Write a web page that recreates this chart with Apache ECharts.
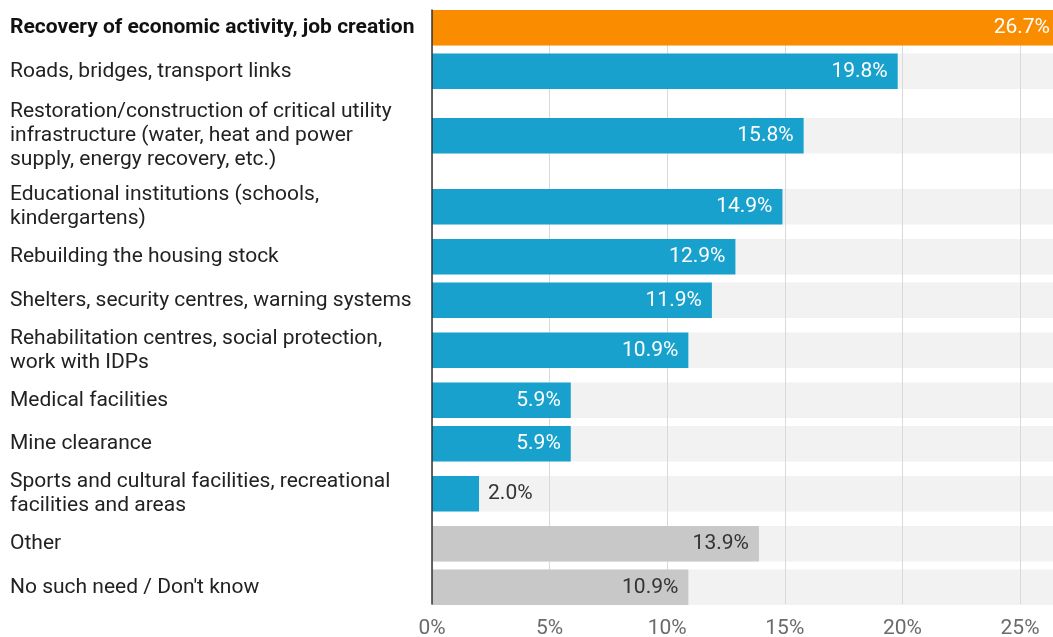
<!DOCTYPE html>
<html>
<head>
<meta charset="utf-8">
<script src="https://cdn.jsdelivr.net/npm/echarts@6/dist/echarts.min.js"></script>
<style>
  html, body { margin: 0; padding: 0; background: #fff; }
  #chart { width: 1053px; height: 637px; }
</style>
</head>
<body>
<div id="chart"></div>
<script>
// Survey answers: what needs rebuilding first (share of respondents, %)
const categories = [
  'Recovery of economic activity, job creation',
  'Roads, bridges, transport links',
  'Restoration/construction of critical utility\ninfrastructure (water, heat and power\nsupply, energy recovery, etc.)',
  'Educational institutions (schools,\nkindergartens)',
  'Rebuilding the housing stock',
  'Shelters, security centres, warning systems',
  'Rehabilitation centres, social protection,\nwork with IDPs',
  'Medical facilities',
  'Mine clearance',
  'Sports and cultural facilities, recreational\nfacilities and areas',
  'Other',
  "No such need / Don't know"
];
const values = [26.7, 19.8, 15.8, 14.9, 12.9, 11.9, 10.9, 5.9, 5.9, 2.0, 13.9, 10.9];
const groups = ['lead', 'item', 'item', 'item', 'item', 'item', 'item', 'item', 'item', 'item', 'rest', 'rest'];
const tickValues = [0, 5, 10, 15, 20, 25];

// ---- styling / layout ----
const FONT = 'Roboto, "Noto Sans", sans-serif';
const FONT_SIZE = 21;
const COLORS = { lead: '#fa8c00', item: '#18a1cd', rest: '#c8c8c8' };
const BAR_H = 35.5;
// row height depends on how many lines the category label wraps to
const ROW_H = { 1: 43.5, 2: 56.5, 3: 85.5 };

const centers = [];
let acc = 0;
categories.forEach(function (c) {
  const h = ROW_H[c.split('\n').length];
  centers.push(acc + h / 2);
  acc += h;
});
const total = acc;
const xMax = Math.max.apply(null, values);

function rowIndexOf(v) {
  let best = 0;
  for (let i = 1; i < centers.length; i++) {
    if (Math.abs(centers[i] - v) < Math.abs(centers[best] - v)) best = i;
  }
  return best;
}

const chart = echarts.init(document.getElementById('chart'), null, { renderer: 'canvas' });

chart.setOption({
  animation: false,
  backgroundColor: '#ffffff',
  textStyle: { fontFamily: FONT },
  grid: {
    left: 432, right: 1053 - 432 - 628, top: 10, bottom: 33,
    containLabel: false, outerBoundsMode: 'none'
  },
  xAxis: {
    type: 'value',
    min: 0,
    max: xMax,
    interval: 5,
    axisLine: { show: false },
    axisTick: { show: false },
    splitLine: { show: true, lineStyle: { color: '#d9d9d9', width: 1 } },
    axisLabel: {
      show: true,
      customValues: tickValues,
      formatter: function (v) { return tickValues.indexOf(v) >= 0 ? v + '%' : ''; },
      color: '#6b6b6b',
      fontSize: FONT_SIZE,
      fontFamily: FONT,
      margin: 14
    }
  },
  yAxis: {
    type: 'value',
    inverse: true,
    min: 4,
    max: total - 5,
    z: 5,
    axisLine: { show: true, lineStyle: { color: '#333', width: 1.5 } },
    axisTick: { show: false },
    splitLine: { show: false },
    axisLabel: {
      show: true,
      customValues: centers,
      align: 'left',
      margin: 422,
      fontSize: FONT_SIZE,
      lineHeight: 24,
      color: '#222',
      fontFamily: FONT,
      formatter: function (v) {
        const i = rowIndexOf(v);
        return i === 0 ? '{b|' + categories[i] + '}' : categories[i];
      },
      rich: {
        b: { fontWeight: 'bold', fontSize: FONT_SIZE, lineHeight: 24, color: '#111', fontFamily: FONT }
      }
    }
  },
  series: [
    {
      // light band behind every row
      type: 'custom',
      z: -1,
      silent: true,
      data: values.map(function (v, i) { return [v, centers[i]]; }),
      renderItem: function (params, api) {
        const p0 = api.coord([0, api.value(1)]);
        const x1 = api.coord([xMax, api.value(1)])[0];
        return {
          type: 'rect',
          shape: { x: p0[0], y: p0[1] - BAR_H / 2, width: x1 - p0[0], height: BAR_H },
          style: { fill: '#f2f2f2' }
        };
      }
    },
    {
      type: 'custom',
      z: 2,
      data: values.map(function (v, i) { return [v, centers[i]]; }),
      renderItem: function (params, api) {
        const i = params.dataIndex;
        const v = api.value(0);
        const yc = api.value(1);
        const p0 = api.coord([0, yc]);
        const p1 = api.coord([v, yc]);
        const inside = v >= 4;
        const textColor = (groups[i] === 'rest' || !inside) ? '#333' : '#fff';
        return {
          type: 'group',
          children: [
            {
              type: 'rect',
              shape: { x: p0[0], y: p0[1] - BAR_H / 2, width: p1[0] - p0[0], height: BAR_H },
              style: { fill: COLORS[groups[i]] }
            },
            {
              type: 'text',
              x: inside ? p1[0] - 10 : p1[0] + 9,
              y: p0[1],
              style: {
                text: v.toFixed(1) + '%',
                fill: textColor,
                fontSize: FONT_SIZE,
                fontFamily: FONT,
                align: inside ? 'right' : 'left',
                verticalAlign: 'middle'
              }
            }
          ]
        };
      }
    }
  ]
});
</script>
</body>
</html>
